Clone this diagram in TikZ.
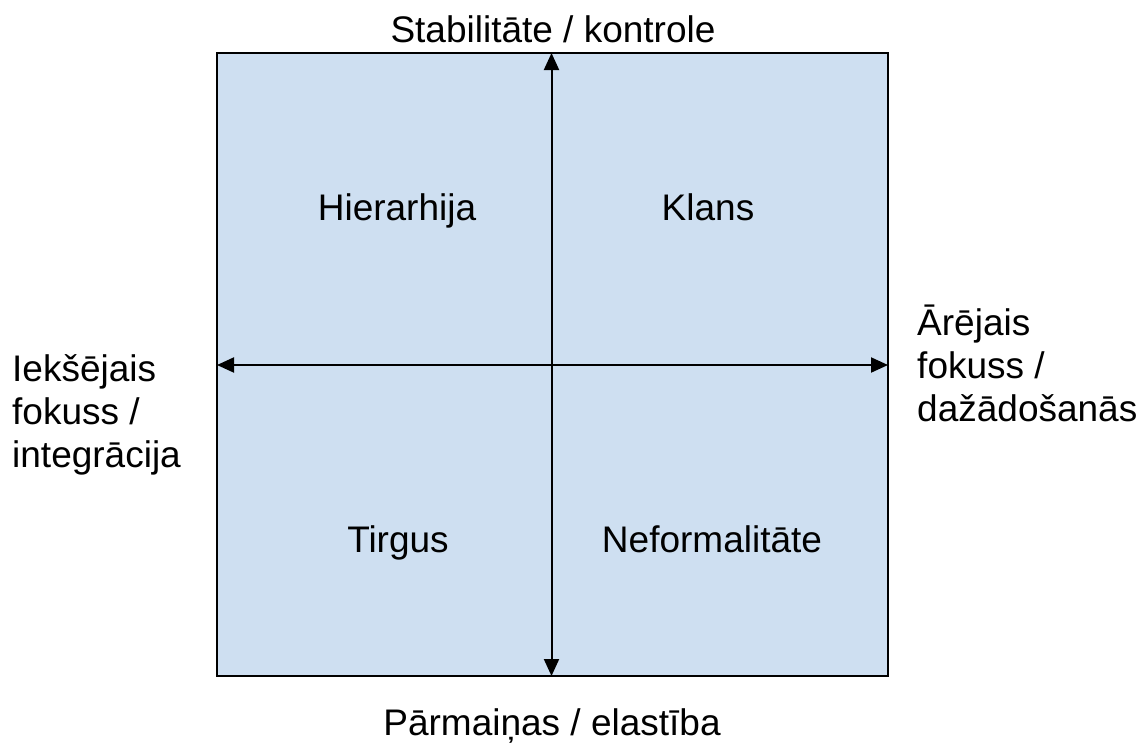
\documentclass[tikz,border=0pt]{standalone}
\usepackage{fontspec}
\setmainfont{Liberation Sans}
\usetikzlibrary{arrows.meta}
\definecolor{quadfill}{RGB}{206,223,241}
\tikzset{
  lbl/.style={font=\fontsize{37}{43}\selectfont, inner sep=0pt, anchor=base},
  side/.style={font=\fontsize{37}{43}\selectfont, inner sep=0pt, align=left, anchor=base west},
  axis/.style={line width=2pt, {Triangle[length=17pt,width=15pt]}-{Triangle[length=17pt,width=15pt]}}
}
\begin{document}
\begin{tikzpicture}[x=1pt,y=-1pt]
\useasboundingbox (0,0) rectangle (1142,745);
\draw[line width=2pt, fill=quadfill] (217,53) rectangle (888,676);
\coordinate (top) at (551.5,53);
\coordinate (bot) at (551.5,676);
\coordinate (lft) at (217,365);
\coordinate (rgt) at (888,365);
\draw[axis] (top) -- (bot);
\draw[axis] (lft) -- (rgt);
\node[lbl] (stab) at (553,42) {Stabilitāte / kontrole};
\node[lbl] (parm) at (552,735) {Pārmaiņas / elastība};
\node[lbl] (hier) at (397,220) {Hierarhija};
\node[lbl] (klans) at (708,220) {Klans};
\node[lbl] (tirg) at (398,552) {Tirgus};
\node[lbl] (nef) at (712,552) {Neformalitāte};
\node[side] (iek) at (12,467) {Iekšējais\\fokuss /\\integrācija};
\node[side] (are) at (917,421) {Ārējais\\fokuss /\\dažādošanās};
\end{tikzpicture}
\end{document}
